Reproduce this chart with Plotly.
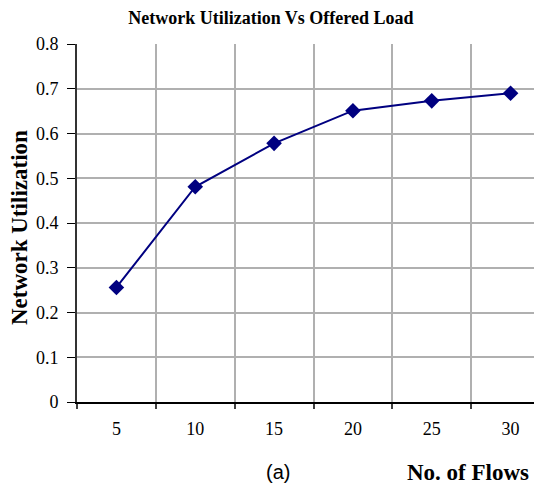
import plotly.graph_objects as go

# Data
flows = ['5', '10', '15', '20', '25', '30']
utilization = [0.256, 0.481, 0.578, 0.651, 0.673, 0.690]

navy = '#000080'
serif = 'Liberation Serif, Times New Roman, serif'

x_pos = list(range(len(flows)))

fig = go.Figure()
fig.add_trace(go.Scatter(
    x=x_pos,
    y=utilization,
    mode='lines+markers',
    line=dict(color=navy, width=2),
    marker=dict(symbol='diamond', size=12, color=navy),
    showlegend=False))

# Category axis: labels in the middle, grid and ticks on the boundaries
fig.update_xaxes(
    range=[-0.5, 5.5],
    tickmode='array',
    tickvals=x_pos,
    ticktext=flows,
    ticks='',
    ticklabelstandoff=9,
    showgrid=False,
    zeroline=False,
    showline=True,
    linecolor='#000000',
    linewidth=2,
    tickfont=dict(family=serif, size=18, color='#000000'),
    minor=dict(tickmode='array',
               tickvals=[i - 0.5 for i in range(len(flows) + 1)],
               ticks='outside', ticklen=5, tickcolor='#404040', tickwidth=1.5,
               showgrid=True, gridcolor='#b0b0b0', gridwidth=1.5))

fig.update_yaxes(
    range=[0, 0.8],
    dtick=0.1,
    tick0=0,
    ticks='outside',
    ticklen=8,
    tickcolor='#000000',
    ticklabelstandoff=5,
    showgrid=True,
    gridcolor='#b0b0b0',
    gridwidth=1.5,
    zeroline=False,
    showline=True,
    linecolor='#333333',
    linewidth=2,
    tickfont=dict(family=serif, size=18, color='#000000'))

fig.update_layout(
    width=542, height=484,
    margin=dict(l=69, r=0, t=36, b=90),
    paper_bgcolor='white',
    plot_bgcolor='white',
    title=dict(text='<b>Network Utilization Vs Offered Load</b>',
               xref='container', yref='container',
               x=0.485, xanchor='center', y=0.979, yanchor='middle',
               font=dict(family=serif, size=18, color='#000000')),
    annotations=[
        dict(text='<b>Network Utilization</b>', xref='paper', yref='paper',
             x=0, y=0.5, xanchor='center', yanchor='middle',
             xshift=-58, yshift=-5, textangle=-90, showarrow=False,
             font=dict(family=serif, size=23, color='#000000')),
        dict(text='<b>No. of Flows</b>', xref='paper', yref='paper',
             x=1.0, y=0, xanchor='right', yanchor='middle',
             xshift=-19, yshift=-70, showarrow=False,
             font=dict(family=serif, size=23, color='#000000')),
        dict(text='(a)', xref='paper', yref='paper',
             x=0.4246, y=0, xanchor='center', yanchor='middle',
             yshift=-70, showarrow=False,
             font=dict(family='Liberation Sans, Arial, sans-serif', size=20,
                       color='#000000')),
    ])

fig.write_html("out.html")
